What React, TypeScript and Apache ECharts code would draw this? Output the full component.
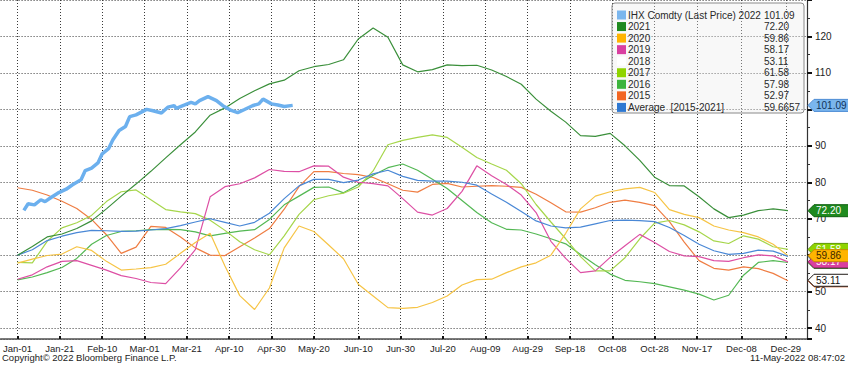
import React, { useEffect, useRef } from "react";
import * as echarts from "echarts";

// ---------- data ----------
const weekDays = [0,7,14,21,28,35,42,49,56,63,70,77,84,91,98,105,112,119,126,133,140,147,154,161,168,175,182,189,196,203,210,217,224,231,238,245,252,259,266,273,280,287,294,301,308,315,322,329,336,343,350,357,364];

const ihxDays = [3,5,8,11,13,16,19,23,26,30,32,35,38,40,43,45,48,51,53,56,61,64,68,71,74,75,79,82,84,86,90,94,97,101,104,107,111,114,116,120,123,126,130];
const ihx2022 = [72.3,74.1,73.8,75.2,74.7,75.9,77.0,78.1,79.3,80.7,83.2,83.9,85.3,87.8,89.2,91.6,94.2,95.3,98.0,98.5,100.0,99.6,99.0,100.6,101.0,100.3,101.2,101.9,101.5,102.4,103.5,102.4,101.0,99.7,99.1,99.9,101.0,101.5,102.8,101.5,101.2,100.8,101.09];

const y2021 = [60.0,62.4,65.0,65.8,67.3,69.4,72.7,76.2,79.5,83.0,86.7,90.3,93.8,98.4,100.4,103.0,105.1,107.0,108.0,110.6,111.7,112.3,113.6,119.3,122.3,119.8,112.2,110.3,110.9,112.2,112.0,112.1,110.8,109.0,106.9,102.8,99.5,96.5,92.8,92.6,93.4,90.0,86.0,81.4,79.1,79.0,76.0,72.7,70.3,71.0,72.2,72.7,72.20];
const y2020 = [57.8,58.9,59.9,60.3,62.3,61.3,58.3,55.9,56.2,56.6,57.5,60.5,63.5,66.0,57.0,48.9,45.1,51.0,62.0,68.0,66.5,62.8,59.0,52.0,48.8,45.6,45.4,45.7,47.0,48.8,51.8,53.3,53.4,55.2,56.8,57.9,60.0,66.0,72.7,76.2,77.4,78.2,78.6,77.2,72.5,71.2,70.3,68.0,66.9,66.2,65.0,63.0,59.86];
const y2019 = [53.4,54.6,56.8,58.3,58.5,57.2,55.9,54.4,53.6,52.5,52.2,56.5,61.5,76.0,78.8,79.6,81.2,83.5,83.0,82.9,84.5,84.4,81.4,80.0,79.6,79.0,75.5,71.8,71.0,72.8,77.5,84.5,81.8,79.4,76.5,71.7,63.8,59.1,55.2,55.7,59.4,62.6,65.7,63.5,61.0,59.8,59.6,58.5,58.3,59.3,60.1,59.8,58.17];
const y2017 = [58.0,57.9,63.8,67.5,68.9,70.9,74.7,77.4,77.9,75.2,72.5,71.9,71.4,69.6,66.8,63.7,61.5,60.1,65.3,71.2,75.2,76.3,77.0,78.7,83.1,90.3,91.5,92.3,93.0,92.3,89.6,86.8,85.0,83.3,79.6,73.9,69.1,64.5,59.6,55.7,55.7,59.3,64.5,68.8,69.5,68.3,66.4,63.9,63.2,65.3,64.4,62.3,61.58];
const y2016 = [53.2,54.0,55.2,56.6,59.1,63.0,65.4,66.5,66.7,67.0,67.1,67.0,66.4,65.3,66.0,66.6,67.0,69.8,73.8,76.2,78.6,78.7,77.1,79.4,81.9,84.0,85.0,83.3,80.8,78.3,75.0,71.7,68.9,67.1,66.9,65.8,64.5,63.1,60.2,57.4,54.8,53.1,52.7,52.2,51.3,50.4,49.3,47.7,49.0,54.5,58.0,58.5,57.98];
const y2015 = [78.5,77.8,76.5,74.8,72.8,69.8,65.6,60.5,62.2,67.9,67.6,65.0,62.0,60.0,59.9,62.3,64.7,67.3,72.6,78.8,82.9,82.9,82.4,82.1,81.3,79.6,77.8,77.3,79.4,79.7,78.7,78.9,79.1,78.9,78.6,76.7,74.4,71.9,71.8,73.0,74.5,75.1,74.5,73.6,69.2,63.6,58.5,56.4,55.9,56.8,56.3,55.0,52.97];
const yAvg = [60.0,61.5,64.0,65.2,66.2,66.8,66.7,66.5,66.6,66.9,67.3,68.1,69.1,70.0,69.0,68.0,69.0,71.5,75.5,79.0,80.8,80.8,79.9,80.6,82.3,83.3,81.6,80.5,80.3,80.3,80.0,79.2,76.8,74.5,72.0,69.4,68.0,67.5,67.7,68.6,69.5,69.6,69.5,69.2,67.6,65.4,63.0,61.2,60.2,60.5,61.4,61.1,59.67];

const tickLabels = ["Jan-01","Jan-21","Feb-10","Mar-01","Mar-21","Apr-10","Apr-30","May-20","Jun-10","Jun-30","Jul-20","Aug-09","Aug-29","Sep-18","Oct-08","Oct-28","Nov-17","Dec-08","Dec-29"];

const legendNames = ["IHX Comdty (Last Price) 2022","2021","2020","2019","2018","2017","2016","2015","Average  [2015-2021]"];
const legendValues = ["101.09","72.20","59.86","58.17","53.11","61.58","57.98","52.97","59.6657"];
const lastValues = [101.09,72.20,59.86,58.17,53.11,61.58,57.98,52.97,59.6657];
const swatchColors = ["#7ab6ee","#1f8a1f","#ffb400","#d93fa0","#ffffff","#8fd400","#3db43d","#f26522","#2e78d2"];
const tagText = ["#10325a","#ffffff","#3a2600","#ffffff","#111111","#ffffff","#ffffff","#ffffff","#ffffff"];
const tagStroke = ["#4a8ad4","#0f5f0f","#c98800","#a0206e","#222222","#5d9600","#1f7f1f","#b8400c","#1d5aa8"];
// drawing order for the axis tags (bottom to top), as indices into legend arrays
const tagOrder = [8,7,6,5,3,2,4,1,0];

// ---------- axis ----------
const FIRST_DAY = -8;
const LAST_DAY = 373;
const MONTHS = ["Jan","Feb","Mar","Apr","May","Jun","Jul","Aug","Sep","Oct","Nov","Dec"];
const dayLabel = (d: number) => {
  const dt = new Date(2020, 0, 1 + d);
  return MONTHS[dt.getMonth()] + "-" + String(dt.getDate()).padStart(2, "0");
};
const categories = Array.from({ length: LAST_DAY - FIRST_DAY + 1 }, (_, i) => dayLabel(FIRST_DAY + i));
const tickIdx = new Set(tickLabels.map((l) => categories.indexOf(l, -FIRST_DAY)));
const showTick = (idx: number) => tickIdx.has(idx);

const FONT = '"Liberation Sans", Arial, sans-serif';

const weekly = (vals: number[]) => weekDays.map((d, i) => [d - FIRST_DAY, vals[i]]);

// y labels covered by a value tag are not drawn (they are hidden in the original too)
const yLabel = (v: number) => (lastValues.some((t) => Math.abs(t - v) < 2) ? "" : String(v));

const lineSeries = (name: string, color: string, data: number[][], width: number, z: number) => ({
  name,
  type: "line",
  data,
  showSymbol: false,
  symbol: "none",
  silent: true,
  z,
  lineStyle: { color, width },
  itemStyle: { color },
  emphasis: { disabled: true },
});

export default function App() {
  const ref = useRef<HTMLDivElement>(null);
  useEffect(() => {
    document.body.style.margin = "0";
    const chart = echarts.init(ref.current!, null, { renderer: "svg" });
    const option: any = {
      animation: false,
      backgroundColor: "#ffffff",
      grid: { left: 0, right: 41, top: 0, bottom: 26 },
      xAxis: {
        type: "category",
        data: categories,
        boundaryGap: false,
        axisLine: { show: true, lineStyle: { color: "#505050", width: 1.5 } },
        axisTick: { show: true, inside: true, length: 3, interval: showTick, lineStyle: { color: "#111", width: 2 } },
        axisLabel: { interval: showTick, color: "#222", fontSize: 9.5, fontFamily: FONT, margin: 4 },
        splitLine: { show: true, interval: showTick, lineStyle: { color: "#3a3a3a", width: 1, type: [1, 2] } },
      },
      yAxis: {
        type: "value",
        position: "right",
        min: 37,
        max: 130,
        splitNumber: 9,
        minInterval: 10,
        maxInterval: 10,
        axisLine: { show: true, lineStyle: { color: "#333", width: 1.2 } },
        axisTick: { show: true, length: 5, lineStyle: { color: "#111", width: 2 } },
        minorTick: { show: true, splitNumber: 2, length: 3, lineStyle: { color: "#333" } },
        axisLabel: { color: "#222", fontSize: 10, fontFamily: FONT, margin: 8, showMinLabel: false, showMaxLabel: false, formatter: yLabel },
        splitLine: { show: true, lineStyle: { color: "#3a3a3a", width: 1, type: [1, 2] } },
      },
      series: [
        lineSeries("2015", "#ef7d43", weekly(y2015), 1.2, 2),
        lineSeries("2016", "#54b854", weekly(y2016), 1.2, 3),
        lineSeries("2017", "#a6d64b", weekly(y2017), 1.2, 4),
        lineSeries("2019", "#dd4fa4", weekly(y2019), 1.2, 5),
        lineSeries("2020", "#f6c445", weekly(y2020), 1.2, 6),
        lineSeries("Average", "#4a88d6", weekly(yAvg), 1.2, 7),
        lineSeries("2021", "#3a8f3a", weekly(y2021), 1.2, 8),
        lineSeries("IHX 2022", "#6cb0ee", ihxDays.map((d, i) => [d - FIRST_DAY, ihx2022[i]]), 3.5, 9),
      ],
    };
    chart.setOption(option);

    const lastIdx = categories.length - 1;
    const graphics: any[] = [];
    // legend box
    graphics.push({
      type: "rect", z: 20, silent: true,
      shape: { x: 612, y: 3, width: 192, height: 110, r: 3 },
      style: { fill: "rgba(236,236,236,0.35)", stroke: "#8a8a8a", lineWidth: 1 },
    });
    legendNames.forEach((name, i) => {
      const cy = 15 + i * 11.55;
      graphics.push({
        type: "rect", z: 21, silent: true,
        shape: { x: 617, y: cy - 4.5, width: 9, height: 9 },
        style: { fill: swatchColors[i] },
      });
      graphics.push({
        type: "text", z: 21, silent: true, x: 628, y: cy,
        style: { text: name, fill: "#2a2a2a", fontSize: 10, fontFamily: FONT, align: "left", verticalAlign: "middle" },
      });
      graphics.push({
        type: "text", z: 21, silent: true, x: 764, y: cy,
        style: { text: legendValues[i], fill: "#2a2a2a", fontSize: 10, fontFamily: FONT, align: "left", verticalAlign: "middle" },
      });
    });
    // axis tags (a tag fully covered by a later one shows no text, as in the original)
    tagOrder.forEach((k, j) => {
      const [ax, ay] = chart.convertToPixel({ gridIndex: 0 }, [lastIdx, lastValues[k]]) as number[];
      const x0 = ax + 1;
      const covered = tagOrder.slice(j + 1).some((m) => Math.abs(lastValues[m] - lastValues[k]) < 1);
      graphics.push({
        type: "polygon", z: 30 + j * 2, silent: true,
        shape: { points: [[x0, ay], [x0 + 6, ay - 6], [x0 + 46, ay - 6], [x0 + 46, ay + 6], [x0 + 6, ay + 6]] },
        style: { fill: swatchColors[k], stroke: tagStroke[k], lineWidth: 1 },
      });
      if (!covered) {
        graphics.push({
          type: "text", z: 31 + j * 2, silent: true, x: x0 + 8, y: ay,
          style: { text: lastValues[k].toFixed(2), fill: tagText[k], fontSize: 10, fontFamily: FONT, align: "left", verticalAlign: "middle" },
        });
      }
    });
    // footer
    graphics.push({
      type: "text", silent: true, x: 2, y: 357,
      style: { text: "Copyright\u00a9 2022 Bloomberg Finance L.P.", fill: "#222", fontSize: 9.5, fontFamily: FONT, align: "left", verticalAlign: "middle" },
    });
    graphics.push({
      type: "text", silent: true, x: 845, y: 357,
      style: { text: "11-May-2022 08:47:02", fill: "#222", fontSize: 9.5, fontFamily: FONT, align: "right", verticalAlign: "middle" },
    });
    chart.setOption({ graphic: graphics });

    return () => chart.dispose();
  }, []);
  return <div ref={ref} style={{ width: 848, height: 365 }} />;
}
